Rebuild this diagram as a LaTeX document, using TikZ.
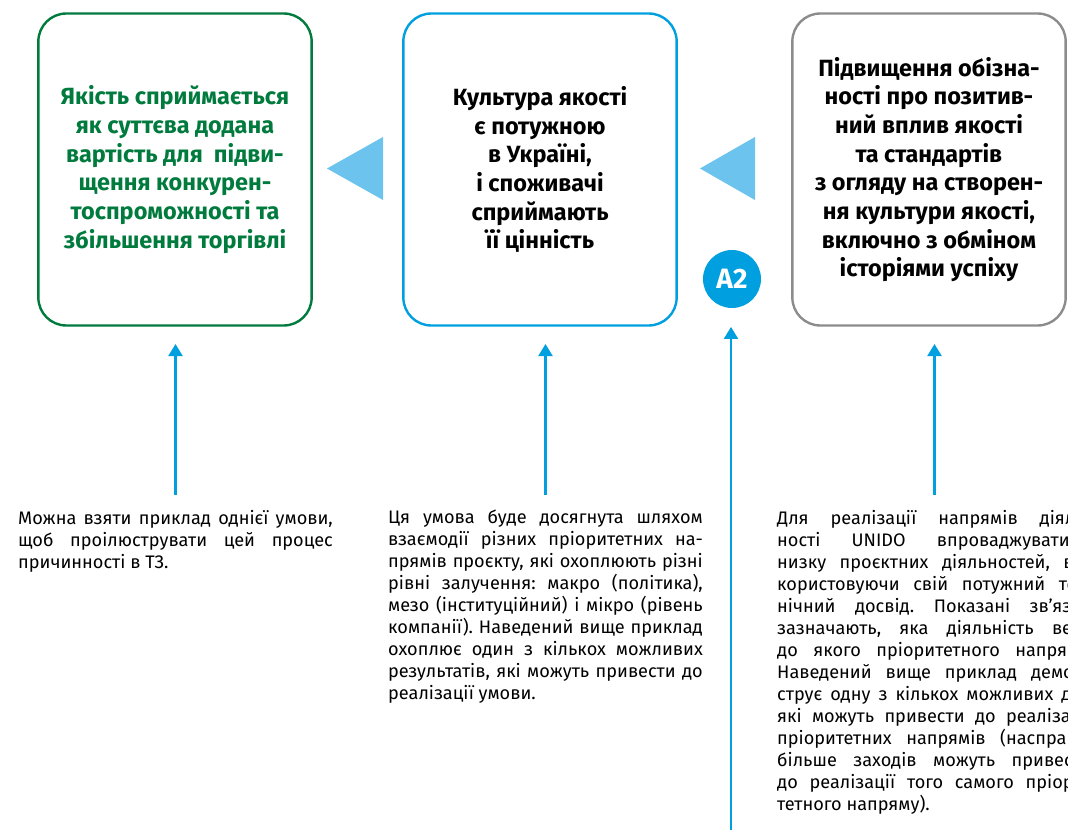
\documentclass[tikz,border=0pt]{standalone}
\usepackage{fontspec}
\setmainfont{Fira Sans}
\usetikzlibrary{arrows.meta}
\definecolor{qgreen}{RGB}{0,122,61}
\definecolor{qblue}{RGB}{0,159,223}
\definecolor{qlight}{RGB}{108,196,238}
\definecolor{qgrey}{RGB}{140,140,140}
\tikzstyle{resbox}=[draw,rounded corners=21pt,line width=1.8pt,minimum width=205pt,minimum height=234pt,align=center,inner sep=0pt,font=\bfseries\fontsize{17.6}{21.5}\selectfont]
\tikzstyle{note}=[text width=236pt,align=justify,inner sep=0pt,anchor=north,font=\fontsize{13.6}{16.5}\selectfont]
\tikzstyle{upline}=[draw,qblue,line width=1.6pt,-{Triangle[width=10.5pt,length=9pt]}]
\tikzstyle{badge}=[circle,fill=qblue,text=white,minimum size=43.5pt,inner sep=0pt,font=\bfseries\fontsize{21}{21}\selectfont]
\hbadness=10000
\frenchspacing

\begin{document}
\begin{tikzpicture}[x=0.75pt,y=-0.75pt]
  \useasboundingbox (0,0) rectangle (1068,830);
  \clip (0,0) rectangle (1068,830);

  % result boxes
  \node[resbox,draw=qgreen,text=qgreen] (impact) at (175,169.5)
    {Якість сприймається\\як суттєва додана\\вартість для\ \ підви-\\щення конкурен-\\тоспроможності та\\збільшення торгівлі};
  \node[resbox,draw=qblue] (culture) at (540,169.5)
    {Культура якості\\є потужною\\в Україні,\\і споживачі\\сприймають\\її цінність};
  \node[resbox,draw=qgrey] (aware) at (929,169.5)
    {Підвищення обізна-\\ності про позитив-\\ний вплив якості\\та стандартів\\з огляду на створен-\\ня культури якості,\\включно з обміном\\історіями успіху};

  % pointers between boxes
  \fill[qlight] (327,168.5) -- (383,137) -- (383,200) -- cycle;
  \fill[qlight] (700,168.5) -- (755,137) -- (755,200) -- cycle;

  \node[badge] (A2) at (732,279) {A2};

  % explanations
  \node[note] (noteA) at (175.5,510)
    {Можна взяти приклад однієї умови,\linebreak
     щоб проілюструвати цей процес\linebreak
     причинності в ТЗ.};
  \node[note] (noteB) at (545.5,510)
    {Ця умова буде досягнута шляхом\linebreak
     взаємодії різних пріоритетних на-\linebreak
     прямів проєкту, які охоплюють різні\linebreak
     рівні залучення: макро (політика),\linebreak
     мезо (інституційний) і мікро (рівень\linebreak
     компанії). Наведений вище приклад\linebreak
     охоплює один з кількох можливих\linebreak
     результатів, які можуть привести до\linebreak
     реалізації умови.};
  \node[note] (noteC) at (934.5,510)
    {Для реалізації напрямів діяль-\linebreak
     ності UNIDO впроваджуватиме\linebreak
     низку проєктних діяльностей, ви-\linebreak
     користовуючи свій потужний тех-\linebreak
     нічний досвід. Показані зв’язки\linebreak
     зазначають, яка діяльність веде\linebreak
     до якого пріоритетного напряму.\linebreak
     Наведений вище приклад демон-\linebreak
     струє одну з кількох можливих дій,\linebreak
     які можуть привести до реалізації\linebreak
     пріоритетних напрямів (насправді\linebreak
     більше заходів можуть привести\linebreak
     до реалізації того самого пріори-\linebreak
     тетного напряму).};

  % links
  \path[upline,shorten <=11pt,shorten >=13pt] (noteA.north) -- (noteA.north |- impact.south);
  \path[upline,shorten <=11pt,shorten >=13pt] (noteB.north) -- (noteB.north |- culture.south);
  \path[upline,shorten <=11pt,shorten >=13pt] (noteC.north) -- (noteC.north |- aware.south);
  \coordinate (foot) at (731,830);
  \path[upline,shorten >=14pt] (foot) -- (foot |- A2.south);
\end{tikzpicture}
\end{document}
